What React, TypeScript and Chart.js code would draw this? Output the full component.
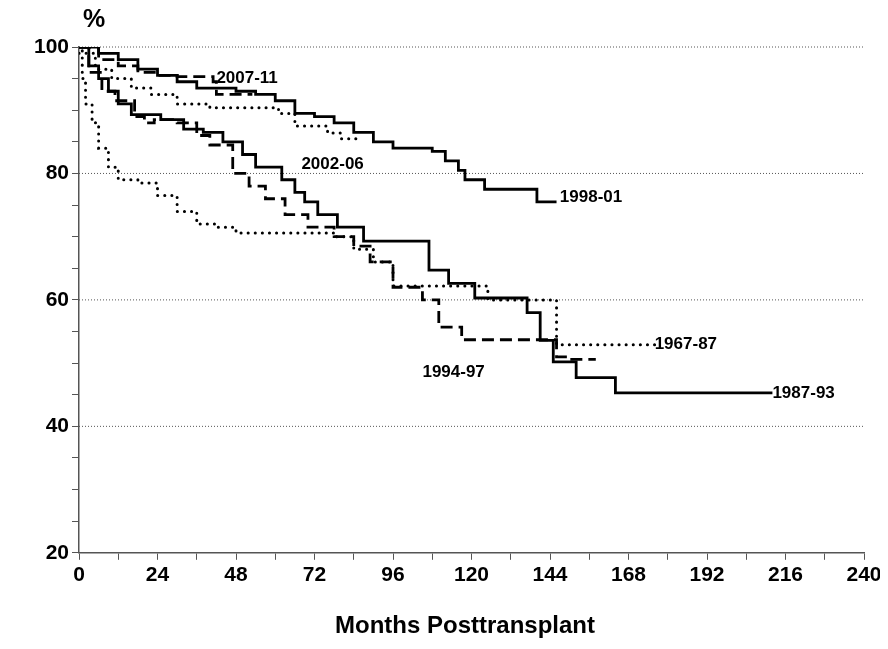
import { useEffect, useRef } from 'react'
import { Chart, registerables } from 'chart.js'

Chart.register(...registerables)

type P = [number, number]

const s1987: P[] = [[0,100],[3,97],[6,95],[9,93],[12,91],[16,89.3],[25,88.5],[32,87],[38,86.5],[44,85],[50,83],[54,81],[62,79],[66,77],[69,75.5],[73,73.5],[79,71.5],[87,69.3],[107,64.7],[113,62.6],[121,60.3],[137,58],[141,53.6],[145,50.2],[152,47.7],[164,45.3],[212,45.3]]
const s1994: P[] = [[0,100],[3,96],[7,93],[11,91.5],[17,89],[20,88],[23,88.5],[30,88],[36,86],[40,84.5],[47,80],[52,78],[57,76],[63,73.5],[70,71.5],[78,70],[84,68.5],[89,66],[96,62],[105,60],[110,55.7],[117,53.7],[143,53.7],[146,51],[150,50.6],[158,50.6]]
const s1967: P[] = [[0,100],[1,95],[2,91],[4,88],[6,84],[9,81],[12,79],[18,78.5],[24,76.5],[30,74],[36,72],[42,71.5],[48,70.6],[72,70.6],[78,70],[84,68],[90,66],[96,62.2],[125,60],[146,52.9],[176,52.9]]
const s1998: P[] = [[0,100],[6,99],[12,98],[18,96.5],[24,95.5],[30,94.5],[36,93.5],[48,93],[54,92.5],[60,91.5],[66,89.5],[72,89],[78,88],[84,86.5],[90,85],[96,84],[108,83.5],[112,82],[116,80.5],[118,79],[124,77.5],[138,77.5],[140,75.5],[146,75.5]]
const s2002: P[] = [[0,99],[5,96.5],[10,95],[16,93.5],[22,92.5],[30,91],[40,90.4],[61,89.5],[66,87.5],[76,86.4],[80,85.5],[86,85.3]]
const s2007: P[] = [[0,100],[6,98],[12,97],[18,96],[24,95.5],[30,95.3],[41,94.5],[42,92.5],[53,92.5]]

const seriesLabels = ['1987-93', '1994-97', '1967-87', '1998-01', '2002-06', '2007-11']
const labelPos: P[] = [[212, 45.3], [105, 48.5], [176, 53], [147, 76.2], [68, 81.5], [42, 95]]
const gridValues = [40, 60, 80, 100]

export default function App() {
  const canvasRef = useRef<HTMLCanvasElement>(null)

  useEffect(() => {
    const ctx = canvasRef.current?.getContext('2d')
    if (!ctx) return
    const mk = (d: P[], dash: number[]) => ({
      data: d.map(([x, y]) => ({ x, y })),
      stepped: 'before' as const,
      borderColor: '#000',
      borderWidth: dash.length && dash[0] < 3 ? 3 : 2.8,
      borderDash: dash,
      borderCapStyle: dash.length && dash[0] < 3 ? 'round' : 'butt',
      pointRadius: 0,
      fill: false,
    })
    const data = [s1987, s1994, s1967, s1998, s2002, s2007]
    const dashes = [[], [12, 6], [0.1, 7], [], [0.1, 7], [12, 6]]
    const deco = {
      id: 'deco',
      beforeDatasetsDraw(chart: any) {
        const { ctx: c, chartArea: a, scales } = chart
        c.save()
        c.strokeStyle = '#555'
        c.lineWidth = 1
        c.setLineDash([1, 2])
        gridValues.forEach(v => {
          const y = scales.y.getPixelForValue(v)
          c.beginPath(); c.moveTo(a.left, y); c.lineTo(a.right, y); c.stroke()
        })
        c.restore()
      },
      afterDatasetsDraw(chart: any) {
        const { ctx: c, scales } = chart
        c.save()
        c.font = 'bold 17px Arial, "Liberation Sans", sans-serif'
        c.fillStyle = '#000'
        c.textBaseline = 'middle'
        seriesLabels.forEach((t, i) => {
          const [x, y] = labelPos[i]
          c.fillText(t, scales.x.getPixelForValue(x), scales.y.getPixelForValue(y))
        })
        c.font = 'bold 25px Arial, "Liberation Sans", sans-serif'
        c.fillText('%', 83, 20)
        c.textAlign = 'center'
        c.font = 'bold 24px Arial, "Liberation Sans", sans-serif'
        c.fillText('Months Posttransplant', 465, 626)
        c.restore()
      },
    }
    const font = { size: 21, weight: 'bold', family: 'Arial, "Liberation Sans"' }
    const chart = new Chart(ctx, {
      type: 'line',
      data: { datasets: data.map((d, i) => mk(d, dashes[i])) as any },
      plugins: [deco],
      options: {
        animation: false,
        responsive: false,
        layout: { padding: { top: 47, right: 24, bottom: 58, left: 10 } },
        plugins: { legend: { display: false }, tooltip: { enabled: false } },
        scales: {
          x: {
            type: 'linear', min: 0, max: 240,
            ticks: { stepSize: 12, color: '#000', font, maxRotation: 0, autoSkip: false,
              callback: (v: any) => (v % 24 === 0 ? v : '') },
            grid: { drawOnChartArea: false, tickLength: 7, tickColor: '#555' },
            border: { color: '#555', width: 1.5 },
          },
          y: {
            min: 20, max: 100,
            afterFit: (s: any) => { s.width = 69 },
            ticks: { stepSize: 5, color: '#000', font, autoSkip: false,
              callback: (v: any) => (v % 20 === 0 ? v : '') },
            grid: { drawOnChartArea: false, tickLength: 7, tickColor: '#555' },
            border: { color: '#555', width: 1.5 },
          },
        },
      },
    } as any)
    return () => chart.destroy()
  }, [])

  return (
    <div style={{ margin: -8, background: '#fff' }}>
      <canvas ref={canvasRef} width={888} height={649} style={{ display: 'block' }} />
    </div>
  )
}
